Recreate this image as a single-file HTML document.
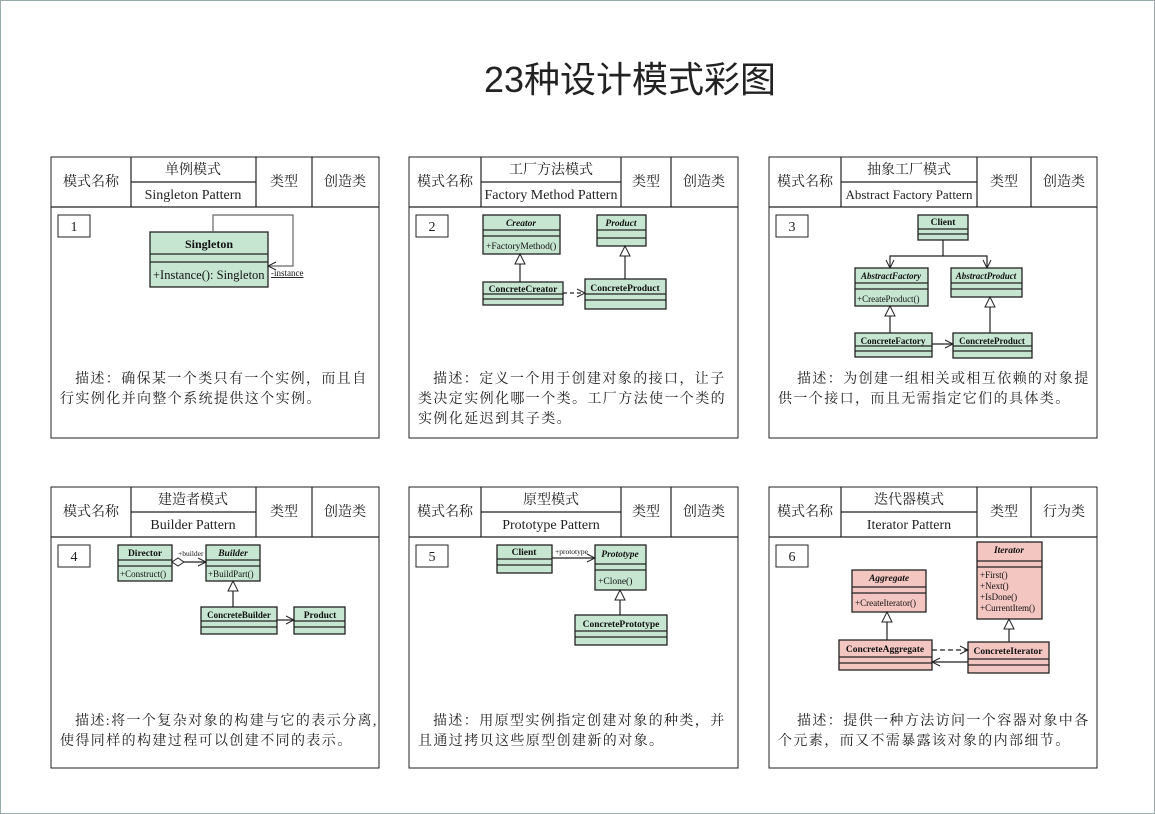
<!DOCTYPE html>
<html><head><meta charset="utf-8"><style>
html,body{margin:0;padding:0;background:#fff}
svg{display:block}
.h{font-family:"Liberation Serif","Noto Serif CJK SC",serif;font-size:14px;fill:#222}
.d{font-family:"Liberation Serif","Noto Serif CJK SC",serif;font-size:14px;fill:#222;letter-spacing:1.4px}
.t{font-family:"Liberation Serif",serif;font-size:9.5px;font-weight:bold;fill:#111}
.ti{font-family:"Liberation Serif",serif;font-size:9.5px;font-weight:bold;font-style:italic;fill:#111}
.m{font-family:"Liberation Serif",serif;font-size:9.5px;fill:#111}
.g{fill:#c6e6d1;stroke:#222;stroke-width:1.3}
.p{fill:#f3c6c2;stroke:#222;stroke-width:1.3}
.ln{stroke:#222;stroke-width:1.2;fill:none}
</style></head><body>
<svg width="1155" height="814" xmlns="http://www.w3.org/2000/svg">
<defs>
<marker id="tri" markerWidth="12" markerHeight="12" refX="11" refY="6" orient="auto" markerUnits="userSpaceOnUse"><path d="M1,1 L11,6 L1,11 Z" fill="#fff" stroke="#222"/></marker>
<marker id="arr" markerWidth="10" markerHeight="10" refX="9" refY="5" orient="auto" markerUnits="userSpaceOnUse"><path d="M1,1 L9,5 L1,9" fill="none" stroke="#222"/></marker>
<marker id="dia" markerWidth="14" markerHeight="10" refX="1" refY="5" orient="auto" markerUnits="userSpaceOnUse"><path d="M1,5 L7,1 L13,5 L7,9 Z" fill="#fff" stroke="#222"/></marker>
</defs>
<rect x="0.5" y="0.5" width="1154" height="813" fill="none" stroke="#9aa" />
<text x="630" y="92" text-anchor="middle" style="font-family:'Liberation Sans','Noto Sans CJK SC',sans-serif;font-size:36px;fill:#222">23种设计模式彩图</text>

<g transform="translate(51,157)">
<rect x="0" y="0" width="328" height="281" fill="none" stroke="#222"/>
<path class="ln" d="M0,50H328M80,0V50M205,0V50M261,0V50M80,25H205"/>
<text class="h" x="40" y="29" text-anchor="middle">模式名称</text>
<text class="h" x="142" y="17" text-anchor="middle">单例模式</text>
<text class="h" x="142" y="42" text-anchor="middle">Singleton Pattern</text>
<text class="h" x="233" y="29" text-anchor="middle">类型</text>
<text class="h" x="294" y="29" text-anchor="middle">创造类</text>
<rect x="7" y="58" width="32" height="22" fill="none" stroke="#222"/>
<text class="h" x="23" y="74" text-anchor="middle">1</text>
<text class="d" x="24" y="226">描述：确保某一个类只有一个实例，而且自</text>
<text class="d" x="9" y="246">行实例化并向整个系统提供这个实例。</text>
</g>
<g transform="translate(409,157)">
<rect x="0" y="0" width="329" height="281" fill="none" stroke="#222"/>
<path class="ln" d="M0,50H329M72,0V50M212,0V50M262,0V50M72,25H212"/>
<text class="h" x="36" y="29" text-anchor="middle">模式名称</text>
<text class="h" x="142" y="17" text-anchor="middle">工厂方法模式</text>
<text class="h" x="142" y="42" text-anchor="middle">Factory Method Pattern</text>
<text class="h" x="237" y="29" text-anchor="middle">类型</text>
<text class="h" x="295" y="29" text-anchor="middle">创造类</text>
<rect x="7" y="58" width="32" height="22" fill="none" stroke="#222"/>
<text class="h" x="23" y="74" text-anchor="middle">2</text>
<text class="d" x="24" y="226">描述：定义一个用于创建对象的接口，让子</text>
<text class="d" x="9" y="246">类决定实例化哪一个类。工厂方法使一个类的</text>
<text class="d" x="9" y="266">实例化延迟到其子类。</text>
</g>
<g transform="translate(769,157)">
<rect x="0" y="0" width="328" height="281" fill="none" stroke="#222"/>
<path class="ln" d="M0,50H328M72,0V50M208,0V50M262,0V50M72,25H208"/>
<text class="h" x="36" y="29" text-anchor="middle">模式名称</text>
<text class="h" x="140" y="17" text-anchor="middle">抽象工厂模式</text>
<text class="h" x="140" y="42" text-anchor="middle" style="font-size:13px">Abstract Factory Pattern</text>
<text class="h" x="235" y="29" text-anchor="middle">类型</text>
<text class="h" x="295" y="29" text-anchor="middle">创造类</text>
<rect x="7" y="58" width="32" height="22" fill="none" stroke="#222"/>
<text class="h" x="23" y="74" text-anchor="middle">3</text>
<text class="d" x="28" y="226">描述：为创建一组相关或相互依赖的对象提</text>
<text class="d" x="9" y="246">供一个接口，而且无需指定它们的具体类。</text>
</g>
<g transform="translate(51,487)">
<rect x="0" y="0" width="328" height="281" fill="none" stroke="#222"/>
<path class="ln" d="M0,50H328M80,0V50M205,0V50M261,0V50M80,25H205"/>
<text class="h" x="40" y="29" text-anchor="middle">模式名称</text>
<text class="h" x="142" y="17" text-anchor="middle">建造者模式</text>
<text class="h" x="142" y="42" text-anchor="middle">Builder Pattern</text>
<text class="h" x="233" y="29" text-anchor="middle">类型</text>
<text class="h" x="294" y="29" text-anchor="middle">创造类</text>
<rect x="7" y="58" width="32" height="22" fill="none" stroke="#222"/>
<text class="h" x="23" y="74" text-anchor="middle">4</text>
<text class="d" x="24" y="238">描述:将一个复杂对象的构建与它的表示分离,</text>
<text class="d" x="9" y="258">使得同样的构建过程可以创建不同的表示。</text>
</g>
<g transform="translate(409,487)">
<rect x="0" y="0" width="329" height="281" fill="none" stroke="#222"/>
<path class="ln" d="M0,50H329M72,0V50M212,0V50M262,0V50M72,25H212"/>
<text class="h" x="36" y="29" text-anchor="middle">模式名称</text>
<text class="h" x="142" y="17" text-anchor="middle">原型模式</text>
<text class="h" x="142" y="42" text-anchor="middle">Prototype Pattern</text>
<text class="h" x="237" y="29" text-anchor="middle">类型</text>
<text class="h" x="295" y="29" text-anchor="middle">创造类</text>
<rect x="7" y="58" width="32" height="22" fill="none" stroke="#222"/>
<text class="h" x="23" y="74" text-anchor="middle">5</text>
<text class="d" x="24" y="238">描述：用原型实例指定创建对象的种类，并</text>
<text class="d" x="9" y="258">且通过拷贝这些原型创建新的对象。</text>
</g>
<g transform="translate(769,487)">
<rect x="0" y="0" width="328" height="281" fill="none" stroke="#222"/>
<path class="ln" d="M0,50H328M72,0V50M208,0V50M262,0V50M72,25H208"/>
<text class="h" x="36" y="29" text-anchor="middle">模式名称</text>
<text class="h" x="140" y="17" text-anchor="middle">迭代器模式</text>
<text class="h" x="140" y="42" text-anchor="middle">Iterator Pattern</text>
<text class="h" x="235" y="29" text-anchor="middle">类型</text>
<text class="h" x="295" y="29" text-anchor="middle">行为类</text>
<rect x="7" y="58" width="32" height="22" fill="none" stroke="#222"/>
<text class="h" x="23" y="74" text-anchor="middle">6</text>
<text class="d" x="28" y="238">描述：提供一种方法访问一个容器对象中各</text>
<text class="d" x="9" y="258">个元素，而又不需暴露该对象的内部细节。</text>
</g>

<rect class="g" x="150" y="232" width="118" height="55"/>
<path class="ln" d="M150,254H268M150,262H268"/>
<text class="t" x="209" y="248" text-anchor="middle" style="font-size:12px">Singleton</text>
<text class="m" x="153" y="279" style="font-size:12.5px">+Instance(): Singleton</text>
<path class="ln" d="M213,232V215H293V266H268" marker-end="url(#arr)" style="stroke:#666"/>
<text class="m" x="271" y="276" style="font-size:9px;text-decoration:underline">-instance</text>

<rect class="g" x="483" y="215" width="77" height="39"/>
<path class="ln" d="M483,230H560M483,236H560"/>
<text class="ti" x="521" y="226" text-anchor="middle">Creator</text>
<text class="m" x="486" y="249">+FactoryMethod()</text>
<rect class="g" x="597" y="215" width="49" height="31"/>
<path class="ln" d="M597,230H646M597,238H646"/>
<text class="ti" x="621" y="226" text-anchor="middle">Product</text>
<rect class="g" x="483" y="282" width="80" height="23"/>
<path class="ln" d="M483,294H563M483,299H563"/>
<text class="t" x="523" y="292" text-anchor="middle">ConcreteCreator</text>
<rect class="g" x="585" y="279" width="81" height="30"/>
<path class="ln" d="M585,294H666M585,300H666"/>
<text class="t" x="625" y="291" text-anchor="middle">ConcreteProduct</text>
<path class="ln" d="M520,282V254" marker-end="url(#tri)"/>
<path class="ln" d="M625,279V246" marker-end="url(#tri)"/>
<path class="ln" d="M563,293H585" stroke-dasharray="4,3" marker-end="url(#arr)"/>

<rect class="g" x="918" y="215" width="50" height="25"/>
<path class="ln" d="M918,229H968M918,234H968"/>
<text class="t" x="943" y="225" text-anchor="middle">Client</text>
<path class="ln" d="M943,240V256H890V268" marker-end="url(#arr)"/>
<path class="ln" d="M943,256H987V268" marker-end="url(#arr)"/>
<rect class="g" x="855" y="268" width="73" height="38"/>
<path class="ln" d="M855,283H928M855,289H928"/>
<text class="ti" x="891" y="279" text-anchor="middle" style="font-size:9px">AbstractFactory</text>
<text class="m" x="857" y="302" style="font-size:9px">+CreateProduct()</text>
<rect class="g" x="951" y="268" width="71" height="29"/>
<path class="ln" d="M951,283H1022M951,289H1022"/>
<text class="ti" x="986" y="279" text-anchor="middle" style="font-size:9px">AbstractProduct</text>
<rect class="g" x="855" y="333" width="77" height="24"/>
<path class="ln" d="M855,346H932M855,351H932"/>
<text class="t" x="893" y="344" text-anchor="middle" style="font-size:9px">ConcreteFactory</text>
<rect class="g" x="953" y="333" width="79" height="25"/>
<path class="ln" d="M953,346H1032M953,351H1032"/>
<text class="t" x="992" y="344" text-anchor="middle" style="font-size:9px">ConcreteProduct</text>
<path class="ln" d="M890,333V306" marker-end="url(#tri)"/>
<path class="ln" d="M990,333V297" marker-end="url(#tri)"/>
<path class="ln" d="M932,344H953" marker-end="url(#arr)"/>

<rect class="g" x="118" y="545" width="54" height="36"/>
<path class="ln" d="M118,560H172M118,566H172"/>
<text class="t" x="145" y="556" text-anchor="middle">Director</text>
<text class="m" x="120" y="577" style="font-size:9px">+Construct()</text>
<rect class="g" x="206" y="545" width="54" height="36"/>
<path class="ln" d="M206,560H260M206,566H260"/>
<text class="ti" x="233" y="556" text-anchor="middle">Builder</text>
<text class="m" x="208" y="577" style="font-size:9px">+BuildPart()</text>
<path class="ln" d="M172,562H206" marker-start="url(#dia)" marker-end="url(#arr)"/>
<text class="m" x="178" y="556" style="font-size:7.5px">+builder</text>
<rect class="g" x="201" y="607" width="76" height="27"/>
<path class="ln" d="M201,621H277M201,627H277"/>
<text class="t" x="239" y="618" text-anchor="middle" style="font-size:9px">ConcreteBuilder</text>
<rect class="g" x="294" y="607" width="51" height="27"/>
<path class="ln" d="M294,621H345M294,627H345"/>
<text class="t" x="320" y="618" text-anchor="middle">Product</text>
<path class="ln" d="M233,607V581" marker-end="url(#tri)"/>
<path class="ln" d="M277,620H294" marker-end="url(#arr)"/>

<rect class="g" x="497" y="545" width="55" height="28"/>
<path class="ln" d="M497,559H552M497,565H552"/>
<text class="t" x="524" y="555" text-anchor="middle">Client</text>
<rect class="g" x="595" y="545" width="51" height="45"/>
<path class="ln" d="M595,564H646M595,570H646"/>
<text class="ti" x="620" y="557" text-anchor="middle">Prototype</text>
<text class="m" x="598" y="584">+Clone()</text>
<path class="ln" d="M552,558H595" marker-end="url(#arr)"/>
<text class="m" x="555" y="554" style="font-size:7.5px">+prototype</text>
<rect class="g" x="575" y="615" width="92" height="30"/>
<path class="ln" d="M575,631H667M575,637H667"/>
<text class="t" x="621" y="627" text-anchor="middle">ConcretePrototype</text>
<path class="ln" d="M620,615V590" marker-end="url(#tri)"/>

<rect class="p" x="977" y="542" width="65" height="77"/>
<path class="ln" d="M977,561H1042M977,567H1042"/>
<text class="ti" x="1009" y="553" text-anchor="middle">Iterator</text>
<text class="m" x="980" y="578" style="font-size:9px">+First()</text>
<text class="m" x="980" y="589" style="font-size:9px">+Next()</text>
<text class="m" x="980" y="600" style="font-size:9px">+IsDone()</text>
<text class="m" x="980" y="611" style="font-size:9px">+CurrentItem()</text>
<rect class="p" x="852" y="570" width="74" height="42"/>
<path class="ln" d="M852,587H926M852,593H926"/>
<text class="ti" x="889" y="581" text-anchor="middle">Aggregate</text>
<text class="m" x="855" y="606" style="font-size:9px">+CreateIterator()</text>
<rect class="p" x="839" y="640" width="93" height="30"/>
<path class="ln" d="M839,657H932M839,663H932"/>
<text class="t" x="885" y="652" text-anchor="middle">ConcreteAggregate</text>
<rect class="p" x="968" y="642" width="81" height="31"/>
<path class="ln" d="M968,659H1049M968,665H1049"/>
<text class="t" x="1008" y="654" text-anchor="middle">ConcreteIterator</text>
<path class="ln" d="M887,640V612" marker-end="url(#tri)"/>
<path class="ln" d="M1009,642V619" marker-end="url(#tri)"/>
<path class="ln" d="M932,650H968" stroke-dasharray="5,3" marker-end="url(#arr)"/>
<path class="ln" d="M968,662H932" marker-end="url(#arr)"/>
</svg>
</body></html>
